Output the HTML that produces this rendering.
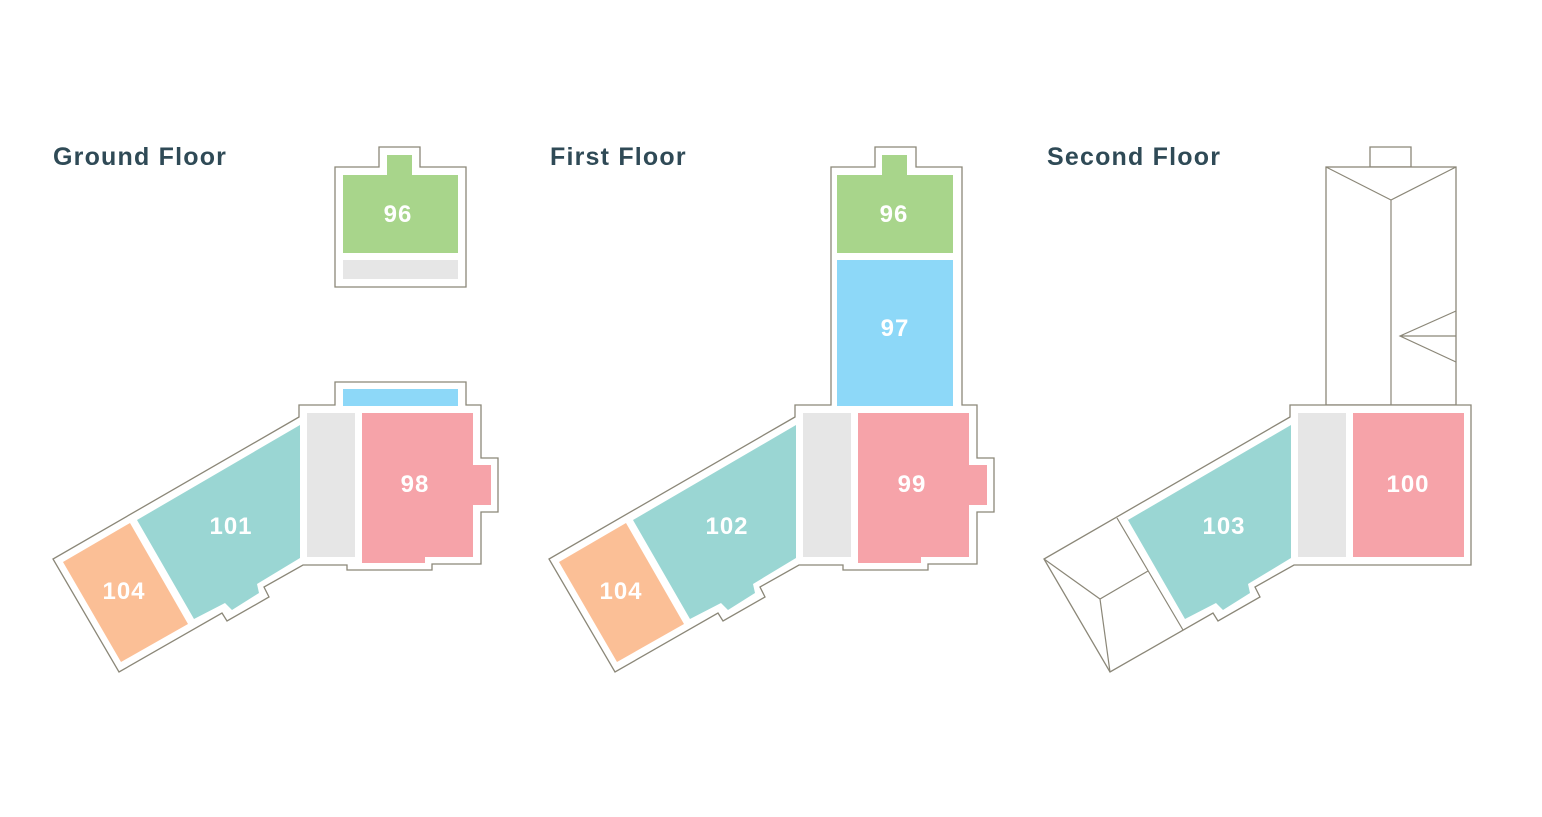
<!DOCTYPE html>
<html><head><meta charset="utf-8"><style>
html,body{margin:0;padding:0;background:#fff;}
svg{display:block}
.h{font-family:"Liberation Sans",sans-serif;font-weight:bold;font-size:25px;letter-spacing:1.2px;fill:#2f4a56}
.n{font-family:"Liberation Sans",sans-serif;font-weight:bold;font-size:24px;letter-spacing:1px;fill:#fff;text-anchor:middle}
.o{fill:#fff;stroke:#8b8778;stroke-width:1.3}
.l{fill:none;stroke:#8b8778;stroke-width:1.2}
</style></head><body>
<svg width="1542" height="817" viewBox="0 0 1542 817" xmlns="http://www.w3.org/2000/svg">
<text class="h" x="53" y="165">Ground Floor</text>
<text class="h" x="550" y="165">First Floor</text>
<text class="h" x="1047" y="165">Second Floor</text>

<!-- Ground floor -->
<g>
<path class="o" d="M335,167 L379,167 L379,147 L420,147 L420,167 L466,167 L466,287 L335,287 Z"/>
<path fill="#a8d58b" d="M343,175 L387,175 L387,155 L412,155 L412,175 L458,175 L458,253 L343,253 Z"/>
<rect x="343" y="260" width="115" height="19" fill="#e6e6e6"/>
<text class="n" x="398" y="222">96</text>
<path class="o" d="M299,417 L53,559 L119,672 L222,613 L227,621 L269,597 L264,587 L303,565 L347,565 L347,570 L432,570 L432,564 L481,564 L481,512 L498,512 L498,458 L481,458 L481,405 L466,405 L466,382 L335,382 L335,405 L299,405 Z"/>
<rect x="343" y="389" width="115" height="17" fill="#8dd8f8"/>
<path fill="#9ad6d3" d="M300,425 L300,558 L257,584 L259,593 L232,610 L225,603 L194,619 L137,520 Z"/>
<path fill="#fbbf96" d="M63,562 L130,523 L188,624 L121,662 Z"/>
<rect x="307" y="413" width="48" height="144" fill="#e6e6e6"/>
<path fill="#f6a3a9" d="M362,413 L473,413 L473,465 L491,465 L491,505 L473,505 L473,557 L425,557 L425,563 L362,563 Z"/>
<text class="n" x="415" y="492">98</text>
<text class="n" x="231" y="534">101</text>
<text class="n" x="124" y="599">104</text>
</g>

<!-- First floor -->
<g transform="translate(496,0)">
<path class="o" d="M299,417 L53,559 L119,672 L222,613 L227,621 L269,597 L264,587 L303,565 L347,565 L347,570 L432,570 L432,564 L481,564 L481,512 L498,512 L498,458 L481,458 L481,405 L466,405 L466,167 L420,167 L420,147 L379,147 L379,167 L335,167 L335,405 L299,405 Z"/>
<path fill="#a8d58b" d="M341,175 L386,175 L386,155 L411,155 L411,175 L457,175 L457,253 L341,253 Z"/>
<rect x="341" y="260" width="116" height="146" fill="#8dd8f8"/>
<path fill="#9ad6d3" d="M300,425 L300,558 L257,584 L259,593 L232,610 L225,603 L194,619 L137,520 Z"/>
<path fill="#fbbf96" d="M63,562 L130,523 L188,624 L121,662 Z"/>
<rect x="307" y="413" width="48" height="144" fill="#e6e6e6"/>
<path fill="#f6a3a9" d="M362,413 L473,413 L473,465 L491,465 L491,505 L473,505 L473,557 L425,557 L425,563 L362,563 Z"/>
<text class="n" x="398" y="222">96</text>
<text class="n" x="399" y="336">97</text>
<text class="n" x="416" y="492">99</text>
<text class="n" x="231" y="534">102</text>
<text class="n" x="125" y="599">104</text>
</g>

<!-- Second floor -->
<g transform="translate(991,0)">
<path class="o" d="M379,167 L379,147 L420,147 L420,167 Z"/>
<rect class="o" x="335" y="167" width="130" height="238"/>
<path class="l" d="M335,167 L400,200 L465,167 M400,200 L400,405 M465,311 L409,336 L465,362 M409,336 L465,336"/>
<path class="o" d="M299,417 L53,559 L119,672 L222,613 L227,621 L269,597 L264,587 L303,565 L480,565 L480,405 L299,405 Z"/>
<path class="l" d="M53,559 L109,599 L157,571 M109,599 L119,672 M126,518 L192,630"/>
<path fill="#9ad6d3" d="M300,425 L300,558 L257,584 L259,593 L232,610 L225,603 L194,619 L137,520 Z"/>
<rect x="307" y="413" width="48" height="144" fill="#e6e6e6"/>
<rect x="362" y="413" width="111" height="144" fill="#f6a3a9"/>
<text class="n" x="417" y="492">100</text>
<text class="n" x="233" y="534">103</text>
</g>
</svg>
</body></html>
